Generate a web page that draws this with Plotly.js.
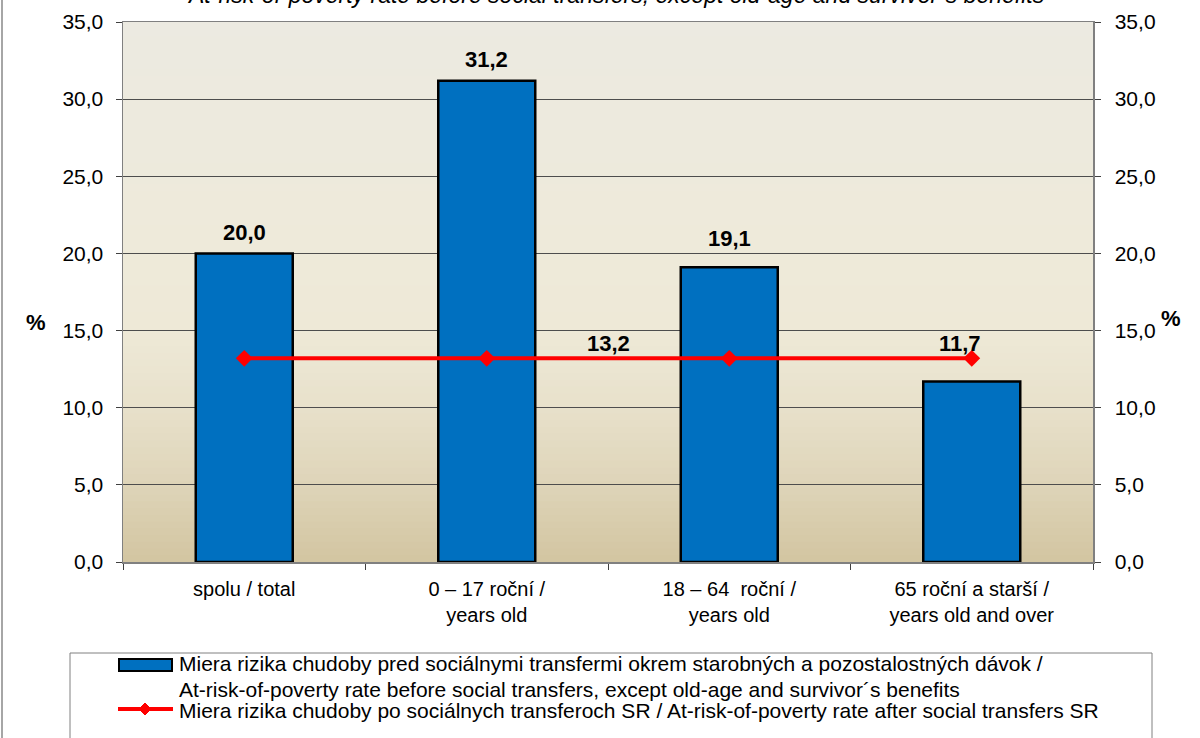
<!DOCTYPE html>
<html>
<head>
<meta charset="utf-8">
<script src="https://cdn.plot.ly/plotly-3.0.1.min.js"></script>
<style>html,body{margin:0;padding:0;background:#fff;}#chart{width:1200px;height:738px;}</style>
</head>
<body>
<div id="chart"></div>
<script>
// ---- data ----
const categories = ["spolu / total", "0 – 17 roční /<br>years old", "18 – 64  roční /<br>years old", "65 roční a starší /<br>years old and over"];
const beforeTransfers = [20.0, 31.2, 19.1, 11.7];
const afterTransfers = [13.2, 13.2, 13.2, 13.2];
const seriesBefore = "Miera rizika chudoby pred sociálnymi transfermi okrem starobných a pozostalostných dávok /";
const seriesBefore2 = "At-risk-of-poverty rate before social transfers, except old-age and survivor´s benefits";
const seriesAfter = "Miera rizika chudoby po sociálnych transferoch SR / At-risk-of-poverty rate after social transfers SR";
const titleText = "At-risk-of-poverty rate before social transfers, except old-age and survivor´s benefits";

const FONT = "Liberation Sans, Arial, sans-serif";
const fmt = v => v.toFixed(1).replace(".", ",");

// plot area geometry (px) for paper conversions
const L = 123, R = 1093, T = 22, B = 562;
const px = x => (x - L) / (R - L);
const py = y => (B - y) / (B - T);

const traces = [
  {
    type: "bar", x: categories, y: beforeTransfers, name: seriesBefore,
    width: 0.4,
    marker: {color: "#0070C0", line: {color: "#000000", width: 2.5}},
    hoverinfo: "skip", showlegend: false
  },
  {
    type: "scatter", mode: "lines+markers", x: categories, y: afterTransfers, name: seriesAfter,
    yaxis: "y2",
    line: {color: "#FF0000", width: 4},
    marker: {symbol: "diamond", size: 13, color: "#FF0000"},
    hoverinfo: "skip", showlegend: false
  }
];

// gradient background strips
function lerp(a, b, t) { return a + (b - a) * t; }
const stops = [
  [0.0, [211, 197, 161]],
  [0.14, [222, 212, 184]],
  [0.29, [232, 225, 203]],
  [0.43, [238, 233, 215]],
  [0.6, [238, 234, 218]],
  [1.0, [236, 234, 225]]
];
function colorAt(f) {
  for (let i = 0; i < stops.length - 1; i++) {
    const [f0, c0] = stops[i], [f1, c1] = stops[i + 1];
    if (f >= f0 && f <= f1) {
      const t = (f - f0) / (f1 - f0);
      return "rgb(" + c0.map((c, k) => Math.round(lerp(c, c1[k], t))).join(",") + ")";
    }
  }
  return "rgb(236,234,225)";
}
const shapes = [];
const N = 80;
for (let i = 0; i < N; i++) {
  shapes.push({
    type: "rect", xref: "paper", yref: "paper", layer: "below",
    x0: 0, x1: 1, y0: i / N, y1: (i + 1) / N + 0.002,
    fillcolor: colorAt((i + 0.5) / N), line: {width: 0}
  });
}
// outer left frame line
shapes.push({type: "line", xref: "paper", yref: "paper", x0: px(2), x1: px(2), y0: py(-5), y1: py(745),
  line: {color: "#A6A6A6", width: 2}});
// legend box
shapes.push({type: "rect", xref: "paper", yref: "paper", x0: px(70), x1: px(1152), y0: py(653), y1: py(745),
  fillcolor: "rgba(255,255,255,0)", line: {color: "#808080", width: 1}});
// legend symbols
shapes.push({type: "rect", xref: "paper", yref: "paper", x0: px(119), x1: px(172), y0: py(659), y1: py(671),
  fillcolor: "#0070C0", line: {color: "#000000", width: 2}});
shapes.push({type: "line", xref: "paper", yref: "paper", x0: px(118), x1: px(173), y0: py(709), y1: py(709),
  line: {color: "#FF0000", width: 4}});
const cx = 145, cy = 709;
shapes.push({type: "path", xref: "paper", yref: "paper",
  path: `M ${px(cx - 6)},${py(cy)} L ${px(cx)},${py(cy - 6)} L ${px(cx + 6)},${py(cy)} L ${px(cx)},${py(cy + 6)} Z`,
  fillcolor: "#FF0000", line: {color: "#FF0000", width: 1}});

const annotations = [];
// bar value labels
const barShift = [21, 21, 29, 38];
const barXShift = [0, 0, 0, -12];
beforeTransfers.forEach((v, i) => {
  annotations.push({x: categories[i], y: v, xref: "x", yref: "y", text: "<b>" + fmt(v) + "</b>",
    showarrow: false, yanchor: "middle", yshift: barShift[i], xshift: barXShift[i],
    font: {family: FONT, size: 22, color: "#000"}});
});
// line value label (single, between categories 2 and 3)
annotations.push({x: 1.5, y: afterTransfers[1], xref: "x", yref: "y", text: "<b>" + fmt(afterTransfers[1]) + "</b>",
  showarrow: false, yanchor: "middle", yshift: 15, font: {family: FONT, size: 22, color: "#000"}});
// axis titles
annotations.push({x: px(24), y: py(322), xref: "paper", yref: "paper", text: "<b>%</b>", showarrow: false,
  font: {family: FONT, size: 22, color: "#000"}});
annotations.push({x: px(1183), y: py(318), xref: "paper", yref: "paper", text: "<b>%</b>", showarrow: false,
  font: {family: FONT, size: 22, color: "#000"}});
// clipped title
annotations.push({x: px(616), y: 1, xref: "paper", yref: "paper", text: "<i>" + titleText + "</i>", showarrow: false,
  yanchor: "bottom", yshift: 12, font: {family: FONT, size: 23, color: "#000"}});
// legend text
[[seriesBefore, 663], [seriesBefore2, 689], [seriesAfter, 710]].forEach(([t, y]) => {
  annotations.push({x: px(177), y: py(y), xref: "paper", yref: "paper", text: t, showarrow: false,
    xanchor: "left", yanchor: "middle", font: {family: FONT, size: 21, color: "#000"}});
});

const yCommon = {
  range: [0, 35], dtick: 5, tick0: 0, tickformat: ".1f",
  ticks: "outside", ticklen: 6, tickcolor: "#404040",
  tickfont: {family: FONT, size: 21, color: "#000"},
  showline: true, linecolor: "#808080", linewidth: 1.5, zeroline: false, fixedrange: true
};

const layout = {
  width: 1200, height: 738,
  margin: {l: L, r: 1200 - R, t: T, b: 738 - B, pad: 0},
  paper_bgcolor: "#FFFFFF", plot_bgcolor: "rgba(0,0,0,0)",
  separators: ",.",
  showlegend: false,
  bargap: 0.6,
  xaxis: {
    type: "category", tickson: "boundaries", ticks: "outside", ticklen: 6, tickcolor: "#404040",
    tickfont: {family: FONT, size: 20, color: "#000"}, ticklabelstandoff: 8,
    showline: true, linecolor: "#808080", linewidth: 1.5, mirror: true, showgrid: false, fixedrange: true
  },
  yaxis: Object.assign({}, yCommon, {side: "left", showgrid: true, gridcolor: "#4D4D4D", gridwidth: 1, ticklabelstandoff: 8}),
  yaxis2: Object.assign({}, yCommon, {side: "right", overlaying: "y", showgrid: false, ticklabelstandoff: 10}),
  shapes: shapes,
  annotations: annotations
};

Plotly.newPlot("chart", traces, layout, {displayModeBar: false, staticPlot: true});
</script>
</body>
</html>
